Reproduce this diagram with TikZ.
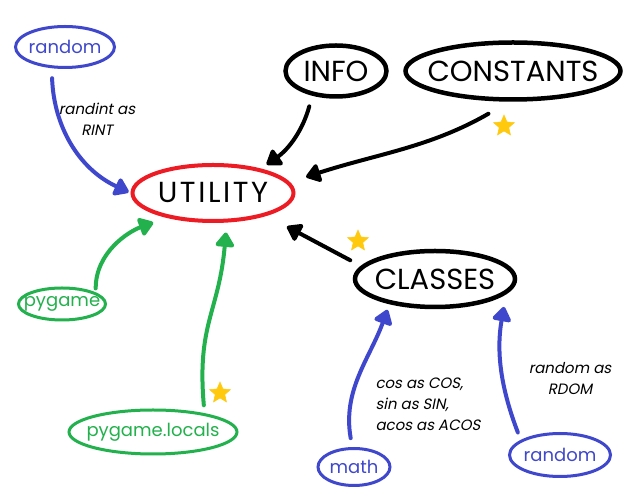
\documentclass[tikz,border=0pt]{standalone}
\usepackage{fontspec}
\setmainfont{Poppins}
\newfontfamily\notefont[FakeSlant=0.2]{Poppins}
\newfontfamily\widefont[LetterSpace=9]{Poppins}
\usepackage{tikz}
\usetikzlibrary{shapes.geometric, arrows.meta}
\definecolor{paintblue}{RGB}{63,72,204}
\definecolor{paintgreen}{RGB}{34,177,76}
\definecolor{paintred}{RGB}{237,28,36}
\definecolor{paintstar}{RGB}{255,201,14}

\tikzset{
  module/.style={ellipse, line width=3pt, inner xsep=-15pt, inner ysep=0pt},
  bluemod/.style={module, draw=paintblue, text=paintblue, font=\fontsize{18}{20}\selectfont},
  greenmod/.style={module, draw=paintgreen, text=paintgreen, font=\fontsize{18}{20}\selectfont},
  blackmod/.style={module, draw=black, line width=4.5pt, font=\fontsize{29}{30}\selectfont},
  link/.style={line width=4pt, line cap=round, -{Triangle[length=16pt, width=21pt, round]}},
  note/.style={font=\notefont\fontsize{15}{21}\selectfont},
  starmark/.style={star, star points=5, star point ratio=2.2, fill=paintstar, draw=paintstar, line width=0.5pt, minimum size=22pt, inner sep=0pt}
}

\begin{document}
\begin{tikzpicture}[x=1pt, y=1pt]
    \fill[white] (0,0) rectangle (627,500);

    % Centre
    \node[module, draw=paintred, line width=4pt, minimum width=161pt, minimum height=56pt, font=\widefont\fontsize{29}{30}\selectfont] (util) at (213,307) {UTILITY};

    % Top row
    \node[bluemod, minimum width=99pt, minimum height=41pt] (rndA) at (65,453) {random};
    \node[blackmod, minimum width=101pt, minimum height=51pt] (info) at (336,429) {INFO};
    \node[blackmod, minimum width=215pt, minimum height=57pt] (consts) at (513,429) {CONSTANTS};

    % Right side
    \node[blackmod, minimum width=160pt, minimum height=56pt] (classes) at (435,221) {CLASSES};
    \node[bluemod, minimum width=72pt, minimum height=37pt] (mathm) at (354,33) {math};
    \node[bluemod, minimum width=101pt, minimum height=43pt] (rndB) at (560,45) {random};

    % Left side
    \node[greenmod, minimum width=87pt, minimum height=32pt] (pyg) at (62,196) {pygame};
    \node[greenmod, minimum width=168pt, minimum height=44pt] (pyloc) at (153,68) {pygame.locals};

    % Imports into UTILITY
    \draw[link, paintblue, shorten <=10pt, shorten >=2pt] (rndA.238) to[out=-88, in=155] (util.west);
    \draw[link, black, shorten <=11pt, shorten >=7pt] (info.226) to[out=255, in=35] (util.27);
    \draw[link, black, shorten <=24pt, shorten >=17pt] (consts.263) to[out=210, in=18] (util.8);
    \draw[link, black, shorten <=12pt, shorten >=23pt] (classes.170) -- (util.337);
    \draw[link, paintgreen, shorten <=4pt, shorten >=14pt] (pyg.19) to[out=90, in=200] (util.208);
    \draw[link, paintgreen, shorten <=8pt, shorten >=10pt] (pyloc.20) to[out=95, in=265, looseness=1.2] (util.295);

    % Imports into CLASSES
    \draw[link, paintblue, shorten <=9pt, shorten >=6pt] (mathm.95) to[out=100, in=250] (classes.209);
    \draw[link, paintblue, shorten <=8pt, shorten >=13pt] (rndB.159) to[out=111, in=260] (classes.348);

    % Notes
    \node[note, align=center] (noteA) at (97,381) {randint as\\RINT};
    \node[note, align=left, anchor=west] (noteB) at (372,96) {cos as COS,\\sin as SIN,\\acos as ACOS};
    \node[note, align=center] (noteC) at (570,121) {random as\\RDOM};

    % Stars
    \node[starmark] (starA) at (504,374) {};
    \node[starmark] (starB) at (358,259) {};
    \node[starmark] (starC) at (220,107) {};
\end{tikzpicture}
\end{document}
